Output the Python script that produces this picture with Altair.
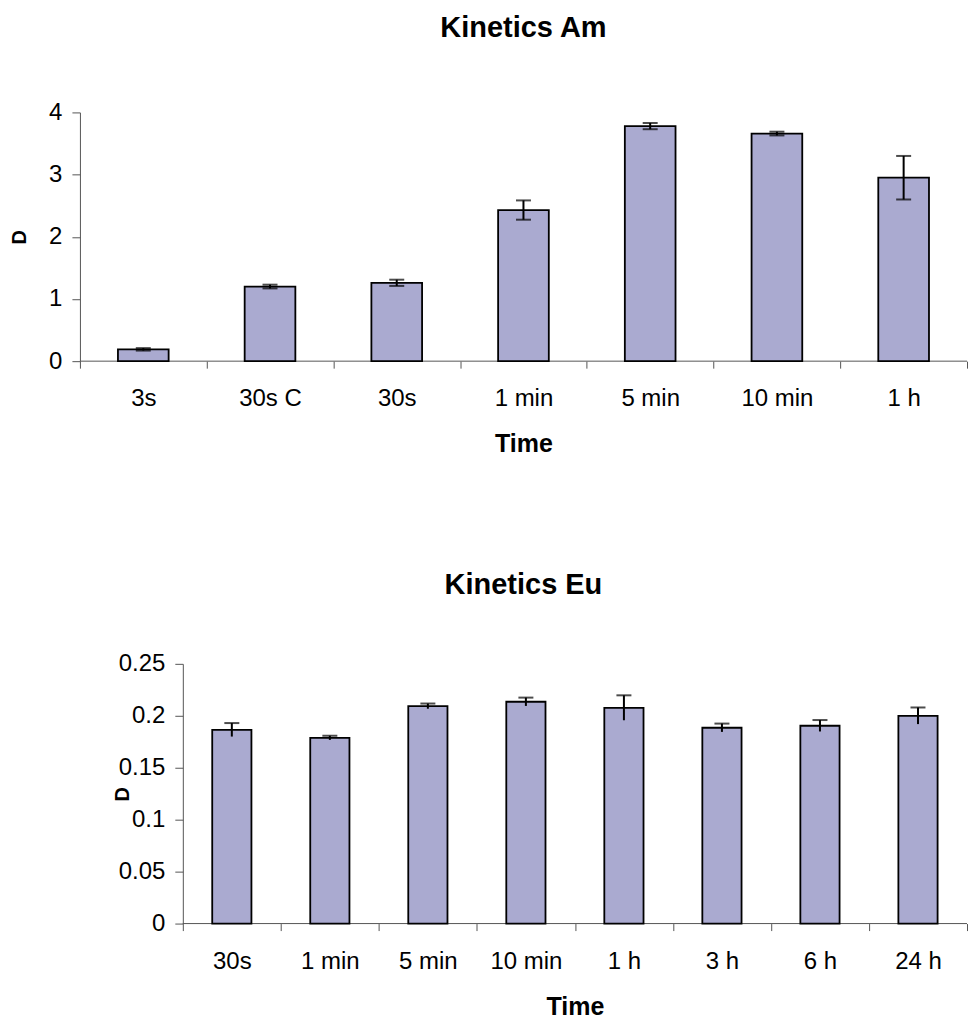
import altair as alt
import pandas as pd

# ---- data ----
am_times = ["3s", "30s C", "30s", "1 min", "5 min", "10 min", "1 h"]
am_values = [0.19, 1.20, 1.26, 2.43, 3.78, 3.66, 2.95]
am_errors = [0.02, 0.03, 0.05, 0.155, 0.05, 0.03, 0.35]

eu_times = ["30s", "1 min", "5 min", "10 min", "1 h", "3 h", "6 h", "24 h"]
eu_values = [0.1865, 0.1788, 0.2093, 0.2135, 0.2077, 0.1885, 0.1904, 0.2000]
eu_errors = [0.0065, 0.0020, 0.0025, 0.0040, 0.0120, 0.0040, 0.0055, 0.0080]

am_ticks = [0, 1, 2, 3, 4]
eu_ticks = [0, 0.05, 0.1, 0.15, 0.2, 0.25]

FONT = "Liberation Sans"
BAR_FILL = "#AAAAD0"
AXIS_COLOR = "#555555"

WIDTH = 888        # common plot-area width of both panels
LEFT_EXTENT = 72   # room left of the plot area for the y axis


def panel(times, values, errors, title, ydomain, yticks, yfmt, height,
          x_start, title_offset, label_pad, title_pad, lower_cap):
    df = pd.DataFrame({"Time": times, "D": values, "err": errors})
    df["lo"] = df["D"] - df["err"]
    df["hi"] = df["D"] + df["err"]

    x_scale = alt.Scale(paddingInner=0, paddingOuter=0, range=[x_start, WIDTH])
    x_enc = alt.X(
        "Time:N",
        sort=times,
        scale=x_scale,
        axis=alt.Axis(
            title="Time",
            labelAngle=0,
            tickBand="extent",
            tickSize=7,
            tickColor=AXIS_COLOR,
            domain=False,
            labelFont=FONT,
            labelFontSize=24,
            labelColor="black",
            labelPadding=label_pad,
            titleFont=FONT,
            titleFontSize=25,
            titleFontWeight="bold",
            titleColor="black",
            titlePadding=title_pad,
        ),
    )
    y_enc = alt.Y(
        "D:Q",
        scale=alt.Scale(domain=ydomain, nice=False, zero=True),
        axis=alt.Axis(
            title="D",
            values=yticks,
            format=yfmt,
            grid=False,
            offset=-x_start,
            tickSize=8,
            tickColor=AXIS_COLOR,
            domainColor=AXIS_COLOR,
            labelFont=FONT,
            labelFontSize=24,
            labelColor="black",
            labelPadding=10,
            titleFont=FONT,
            titleFontSize=20,
            titleFontWeight="bold",
            titleColor="black",
            titleX=-50,
        ),
    )

    # x axis line (drawn as a rule so it starts at the y axis)
    baseline = alt.Chart(pd.DataFrame({"k": [0]})).mark_rule(
        color=AXIS_COLOR, strokeWidth=1
    ).encode(
        x=alt.value(x_start), x2=alt.value(WIDTH),
        y=alt.value(height), y2=alt.value(height),
    )

    base = alt.Chart(df)
    bars = base.mark_bar(
        fill=BAR_FILL, stroke="black", strokeWidth=1.8,
        width=alt.RelativeBandSize(0.4),
    ).encode(x=x_enc, y=y_enc)

    xs = alt.X("Time:N", sort=times)
    stems = base.mark_rule(color="black", strokeWidth=2).encode(
        x=xs, y=alt.Y("lo:Q"), y2="hi:Q"
    )
    cap_hi = base.mark_tick(color="black", thickness=2, size=15).encode(
        x=xs, y=alt.Y("hi:Q")
    )
    layers = [baseline, bars, stems, cap_hi]
    if lower_cap:
        cap_lo = base.mark_tick(color="black", thickness=2, size=15).encode(
            x=xs, y=alt.Y("lo:Q")
        )
        layers.append(cap_lo)

    # invisible left bound so both panels reserve the same room on the left
    spacer = alt.Chart(pd.DataFrame({"k": [0]})).mark_rule(
        strokeWidth=0.01, opacity=0
    ).encode(
        x=alt.value(-LEFT_EXTENT), x2=alt.value(-LEFT_EXTENT),
        y=alt.value(100), y2=alt.value(101),
    )
    layers.append(spacer)

    return alt.layer(*layers).properties(
        width=WIDTH,
        height=height,
        title=alt.TitleParams(
            text=title,
            font=FONT,
            fontSize=29,
            fontWeight="bold",
            color="black",
            anchor="middle",
            frame="group",
            offset=title_offset,
        ),
    )


top = panel(am_times, am_values, am_errors, "Kinetics Am", [0, 4], am_ticks, "d",
            249, 0, 57, 18, 21, True)
bottom = panel(eu_times, eu_values, eu_errors, "Kinetics Eu", [0, 0.25], eu_ticks,
               ".2~f", 260, 103, 52, 19, 21, False)

chart = alt.vconcat(top, bottom, spacing=115).properties(
    padding={"left": 0, "top": 6, "right": 0, "bottom": 0}
).configure_view(stroke=None)

chart.save("out.html", embed_options={"renderer": "svg", "actions": False})
